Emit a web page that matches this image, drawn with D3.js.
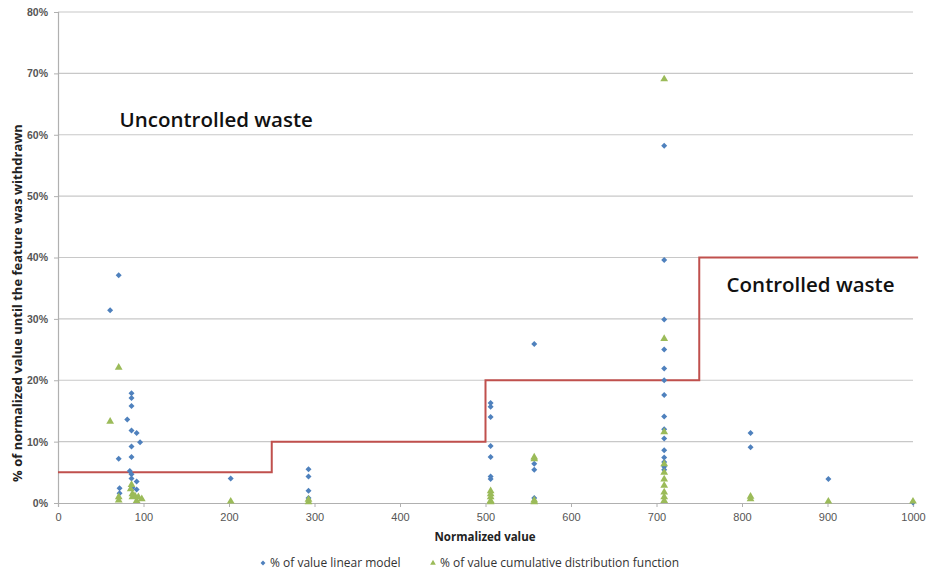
<!DOCTYPE html>
<html>
<head>
<meta charset="utf-8">
<script src="https://cdn.jsdelivr.net/npm/d3@7"></script>
<style>
    body { margin: 0; background: #fff; }
    svg { display: block; font-family: "Open Sans", "DejaVu Sans", sans-serif; }
</style>
</head>
<body>
<div class="chart"></div>
<script>
// Size of the picture
let width = 928;
let height = 571;

// Margins round the plot area
let margin = { top: 12, right: 15, bottom: 68, left: 58 };

// % of value linear model, [normalized value, percent]
const linearModel = [
    [71, 37.1], [61, 31.4], [86, 17.9], [86, 17.1], [86, 15.8], [81, 13.6],
    [86, 11.8], [92, 11.4], [96, 9.9], [86, 9.2], [86, 7.5], [71, 7.2],
    [84, 5.2], [86, 4.7], [86, 4.0], [92, 3.5], [87, 2.5], [72, 2.4],
    [92, 2.2], [72, 1.6],
    [202, 4.0],
    [293, 5.5], [293, 4.3], [293, 2.0], [293, 0.8],
    [506, 16.3], [506, 15.7], [506, 14.0], [506, 9.3], [506, 7.5], [506, 4.3], [506, 3.9],
    [557, 25.9], [557, 6.4], [557, 5.4], [557, 0.8],
    [709, 58.2], [709, 39.6], [709, 29.9], [709, 25.0], [709, 21.9], [709, 20.0],
    [709, 17.6], [709, 14.1], [709, 12.0], [709, 10.5], [709, 8.6], [709, 7.4],
    [709, 6.7], [709, 5.9], [709, 5.4],
    [810, 11.4], [810, 9.1],
    [901, 3.9],
    [1000, 0.1]
];

// % of value cumulative distribution function, [normalized value, percent]
const cdfModel = [
    [71, 21.9], [61, 13.1], [71, 0.8], [71, 0.3], [85, 2.1], [86, 2.8],
    [87, 1.3], [87, 0.8], [90, 1.0], [94, 0.8], [98, 0.5], [92, 0.2],
    [202, 0.1],
    [293, 0.4], [293, 0.0],
    [506, 1.8], [506, 1.3], [506, 0.8], [506, 0.2], [506, 0.0],
    [557, 7.3], [557, 7.0], [557, 0.3], [557, 0.0],
    [709, 68.9], [709, 26.6], [709, 11.4], [709, 6.2], [709, 4.8], [709, 3.7],
    [709, 2.7], [709, 1.6], [709, 0.8], [709, 0.2],
    [810, 0.9], [810, 0.5],
    [901, 0.1],
    [1000, 0.1]
];

// Threshold steps of the waste line
const stepX = [0, 250, 500, 750, 1006];
const stepY = [5, 10, 20, 40, 40];

// Tick values
const xTicks = [0, 100, 200, 300, 400, 500, 600, 700, 800, 900, 1000];
const yTicks = [0, 10, 20, 30, 40, 50, 60, 70, 80];

// Create svg
let svg = d3.select(".chart").append("svg")
    .attr("width", width)
    .attr("height", height);

const innerW = width - margin.left - margin.right;
const innerH = height - margin.top - margin.bottom;

// Scales
const xScale = d3.scaleLinear().domain([0, 1000]).range([0, innerW]);
const yScale = d3.scaleLinear().domain([0, 80]).range([innerH, 0]);

const plot = svg.append("g")
    .attr("transform", `translate(${margin.left}, ${margin.top})`);

// Horizontal gridlines
plot.append("g")
    .selectAll("line")
    .data(yTicks.filter(d => d > 0))
    .join("line")
    .attr("x1", 0)
    .attr("x2", innerW)
    .attr("y1", d => yScale(d))
    .attr("y2", d => yScale(d))
    .attr("stroke", "#c8c8c8")
    .attr("stroke-width", 1.2);

// Y axis
let yAxis = plot.append("g")
    .call(d3.axisLeft(yScale).tickValues(yTicks).tickSize(4).tickFormat(d => d + "%"));
yAxis.select(".domain").attr("stroke", "#b0b0b0").attr("stroke-width", 1.2);
yAxis.selectAll(".tick line").attr("stroke", "#b0b0b0");
yAxis.selectAll("text")
    .attr("x", -10)
    .attr("fill", "#555")
    .style("font-size", "10.5px")
    .style("font-weight", "bold");

// X axis
let xAxis = plot.append("g")
    .attr("transform", `translate(0, ${innerH})`)
    .call(d3.axisBottom(xScale).tickValues(xTicks).tickSize(4).tickFormat(d3.format("d")));
xAxis.select(".domain").attr("stroke", "#b0b0b0").attr("stroke-width", 1.2);
xAxis.selectAll(".tick line").attr("stroke", "#b0b0b0");
xAxis.selectAll("text")
    .attr("y", 10)
    .attr("fill", "#555")
    .style("font-size", "11px");

// Step line for the waste threshold
const stepLine = d3.line()
    .x(d => xScale(d[0]))
    .y(d => yScale(d[1]))
    .curve(d3.curveStepAfter);

plot.append("path")
    .datum(stepX.map((x, i) => [x, stepY[i]]))
    .attr("d", stepLine)
    .attr("fill", "none")
    .attr("stroke", "#c0504d")
    .attr("stroke-width", 2);

// Linear model points (square turned into a diamond)
const diamond = d3.symbol().type(d3.symbolSquare).size(18);
plot.append("g")
    .selectAll("path")
    .data(linearModel)
    .join("path")
    .attr("d", diamond)
    .attr("transform", d => `translate(${xScale(d[0])}, ${yScale(d[1])}) rotate(45)`)
    .attr("fill", "#4f81bd");

// Cumulative distribution points (triangles)
const triangle = d3.symbol().type(d3.symbolTriangle).size(26);
plot.append("g")
    .selectAll("path")
    .data(cdfModel)
    .join("path")
    .attr("d", triangle)
    .attr("transform", d => `translate(${xScale(d[0])}, ${yScale(d[1]) - 1})`)
    .attr("fill", "#9bbb59");

// Region labels
plot.append("text")
    .attr("x", xScale(72))
    .attr("y", yScale(61.2))
    .style("font-size", "20.5px")
    .style("font-weight", 600)
    .attr("fill", "#111")
    .text("Uncontrolled waste");

plot.append("text")
    .attr("x", xScale(782))
    .attr("y", yScale(34.3))
    .style("font-size", "20.5px")
    .style("font-weight", 600)
    .attr("fill", "#111")
    .text("Controlled waste");

// Axis titles
svg.append("text")
    .attr("x", 485)
    .attr("y", 541)
    .attr("text-anchor", "middle")
    .style("font-size", "11.5px")
    .style("font-weight", "bold")
    .attr("fill", "#222")
    .text("Normalized value");

svg.append("text")
    .attr("transform", "translate(22, 303) rotate(-90)")
    .attr("text-anchor", "middle")
    .style("font-size", "13px")
    .style("font-weight", "bold")
    .attr("fill", "#222")
    .text("% of normalized value until the feature was withdrawn");

// Legend
const legend = svg.append("g").attr("transform", "translate(0, 563)");

legend.append("path")
    .attr("d", d3.symbol().type(d3.symbolSquare).size(12))
    .attr("transform", "translate(263, 0) rotate(45)")
    .attr("fill", "#4f81bd");
legend.append("text")
    .attr("x", 270)
    .attr("y", 4)
    .style("font-size", "12px")
    .attr("fill", "#333")
    .text("% of value linear model");

legend.append("path")
    .attr("d", d3.symbol().type(d3.symbolTriangle).size(14))
    .attr("transform", "translate(433, 0)")
    .attr("fill", "#9bbb59");
legend.append("text")
    .attr("x", 440)
    .attr("y", 4)
    .style("font-size", "12px")
    .attr("fill", "#333")
    .text("% of value cumulative distribution function");
</script>
</body>
</html>
